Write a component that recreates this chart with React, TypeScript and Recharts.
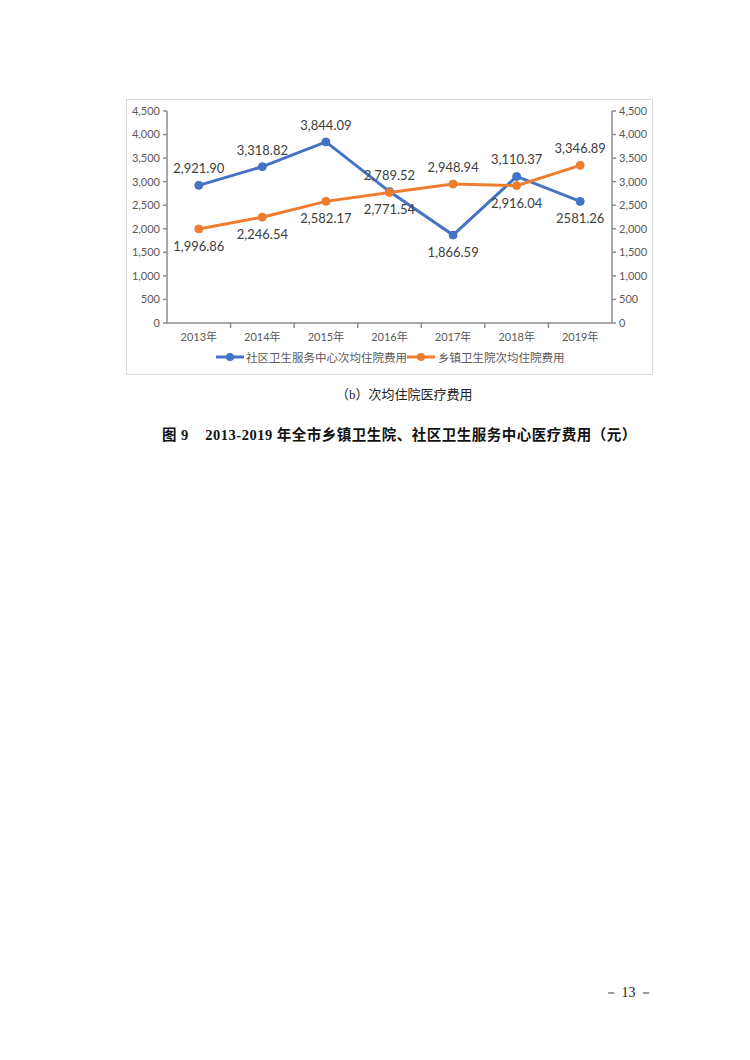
import React from 'react';
import { LineChart, Line, XAxis, YAxis, LabelList } from 'recharts';

const categories = ['2013年', '2014年', '2015年', '2016年', '2017年', '2018年', '2019年'];
const communityValues = [2921.9, 3318.82, 3844.09, 2789.52, 1866.59, 3110.37, 2581.26];
const townshipValues = [1996.86, 2246.54, 2582.17, 2771.54, 2948.94, 2916.04, 3346.89];
const communityLabels = ['2,921.90', '3,318.82', '3,844.09', '2,789.52', '1,866.59', '3,110.37', '2581.26'];
const townshipLabels = ['1,996.86', '2,246.54', '2,582.17', '2,771.54', '2,948.94', '2,916.04', '3,346.89'];
const communityLabelSide = ['top', 'top', 'top', 'top', 'bottom', 'top', 'bottom'];
const townshipLabelSide = ['bottom', 'bottom', 'bottom', 'bottom', 'top', 'bottom', 'top'];
const yTicks = [0, 500, 1000, 1500, 2000, 2500, 3000, 3500, 4000, 4500];
const seriesNames = ['社区卫生服务中心次均住院费用', '乡镇卫生院次均住院费用'];

const data = categories.map((c, i) => ({
  year: c,
  community: communityValues[i],
  township: townshipValues[i],
}));

const BLUE = '#4472C4';
const ORANGE = '#ED7D31';
const AXIS = '#8c8c8c';
const TEXT = '#595959';
const FONT = 'Lato, "Noto Sans CJK SC", sans-serif';

const PLOT_LEFT = 167;
const PLOT_RIGHT = 612;
const BAND = (PLOT_RIGHT - PLOT_LEFT) / categories.length;

const makeLabel = (texts: string[], sides: string[]) => (props: any) => {
  const { x, y, index } = props;
  const dy = sides[index] === 'top' ? -17 : 17;
  return (
    <text
      x={x}
      y={y + dy}
      textAnchor="middle"
      dominantBaseline="central"
      fontSize={13}
      fill="#404040"
      fontFamily={FONT}
    >
      {texts[index]}
    </text>
  );
};

const XTick = (props: any) => {
  const { x, y, payload, index } = props;
  return (
    <g>
      {index < categories.length - 1 && (
        <line x1={x + BAND / 2} x2={x + BAND / 2} y1={y - 8} y2={y - 3} stroke={AXIS} strokeWidth={1.5} />
      )}
      <text x={x} y={y + 5} textAnchor="middle" dominantBaseline="central" fontSize={11} fill={TEXT} fontFamily={FONT}>
        {payload.value}
      </text>
    </g>
  );
};

const fmt = (v: number) => v.toLocaleString('en-US');

const LegendItem = ({ color, label, lineX, textX }: any) => (
  <>
    <svg style={{ position: 'absolute', left: lineX, top: 351 }} width={28} height={12}>
      <line x1={0} x2={28} y1={6} y2={6} stroke={color} strokeWidth={3} />
      <circle cx={14} cy={6} r={4} fill={color} />
    </svg>
    <div
      style={{
        position: 'absolute',
        left: textX,
        top: 349,
        fontSize: 11.5,
        lineHeight: '16px',
        color: TEXT,
        fontFamily: '"Noto Sans CJK SC", sans-serif',
        whiteSpace: 'nowrap',
      }}
    >
      {label}
    </div>
  </>
);

export default function App() {
  return (
    <div style={{ position: 'absolute', left: 0, top: 0, width: 750, height: 1060, background: '#fff' }}>
      <div
        style={{
          position: 'absolute',
          left: 126,
          top: 99,
          width: 527,
          height: 276,
          border: '1px solid #d9d9d9',
          boxSizing: 'border-box',
        }}
      />
      <div style={{ position: 'absolute', left: 0, top: 0 }}>
        <LineChart width={750} height={380} data={data} margin={{ top: 111, right: 0, bottom: 0, left: 0 }}>
          <XAxis
            dataKey="year"
            height={57}
            stroke={AXIS}
            strokeWidth={1.5}
            tickLine={false}
            tick={<XTick />}
            interval={0}
            padding={{ left: BAND / 2, right: BAND / 2 }}
          />
          <YAxis
            yAxisId="left"
            orientation="left"
            width={PLOT_LEFT}
            domain={[0, 4500]}
            ticks={yTicks}
            tickFormatter={fmt}
            stroke={AXIS}
            strokeWidth={1.5}
            tickSize={4}
            tickMargin={3}
            tick={{ fontSize: 11, fill: TEXT, fontFamily: FONT }}
          />
          <YAxis
            yAxisId="right"
            orientation="right"
            width={750 - PLOT_RIGHT}
            domain={[0, 4500]}
            ticks={yTicks}
            tickFormatter={fmt}
            stroke={AXIS}
            strokeWidth={1.5}
            tickSize={4}
            tickMargin={3}
            tick={{ fontSize: 11, fill: TEXT, fontFamily: FONT, textAnchor: 'start' }}
          />
          <Line
            yAxisId="left"
            dataKey="community"
            name={seriesNames[0]}
            stroke={BLUE}
            strokeWidth={3}
            dot={{ r: 4, fill: BLUE, stroke: BLUE, strokeWidth: 1 }}
            isAnimationActive={false}
          >
            <LabelList dataKey="community" content={makeLabel(communityLabels, communityLabelSide)} />
          </Line>
          <Line
            yAxisId="right"
            dataKey="township"
            name={seriesNames[1]}
            stroke={ORANGE}
            strokeWidth={3}
            dot={{ r: 4, fill: ORANGE, stroke: ORANGE, strokeWidth: 1 }}
            isAnimationActive={false}
          >
            <LabelList dataKey="township" content={makeLabel(townshipLabels, townshipLabelSide)} />
          </Line>
        </LineChart>
      </div>
      <LegendItem color={BLUE} label={seriesNames[0]} lineX={216} textX={246} />
      <LegendItem color={ORANGE} label={seriesNames[1]} lineX={407} textX={438} />
      <div
        style={{
          position: 'absolute',
          left: 336,
          top: 386,
          fontSize: 13,
          lineHeight: '18px',
          color: '#222',
          fontFamily: '"Liberation Serif", "Noto Sans CJK SC", serif',
          whiteSpace: 'nowrap',
        }}
      >
        （b）次均住院医疗费用
      </div>
      <div
        style={{
          position: 'absolute',
          left: 162,
          top: 425,
          fontSize: 14.5,
          lineHeight: '20px',
          fontWeight: 'bold',
          color: '#111',
          fontFamily: '"Liberation Serif", "Noto Sans CJK SC", serif',
          whiteSpace: 'nowrap',
          letterSpacing: 0.5,
        }}
      >
        图 9&nbsp;&nbsp;&nbsp;&nbsp;2013-2019 年全市乡镇卫生院、社区卫生服务中心医疗费用（元）
      </div>
      <div
        style={{
          position: 'absolute',
          left: 604,
          top: 984,
          fontSize: 14,
          lineHeight: '18px',
          color: '#222',
          fontFamily: '"Liberation Serif", serif',
          whiteSpace: 'nowrap',
        }}
      >
        － 13 －
      </div>
    </div>
  );
}
